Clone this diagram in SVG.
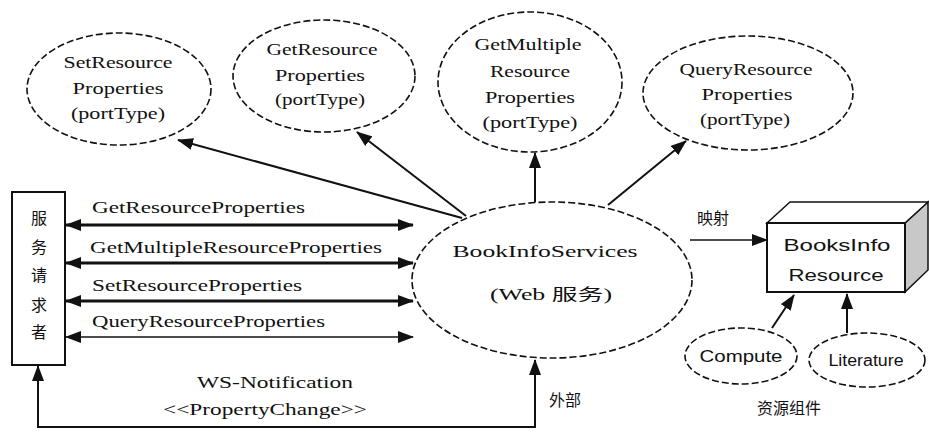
<svg xmlns="http://www.w3.org/2000/svg" width="929" height="437" viewBox="0 0 929 437">
<style>
.bg{fill:#fff}
.el{fill:#fff;stroke:#111;stroke-width:1.6;stroke-dasharray:7 3}
.box{fill:#fff;stroke:#111;stroke-width:2}
.t{font-family:"Liberation Serif","Times New Roman",serif;font-size:16px;fill:#111;text-anchor:middle}
.ts{font-family:"Liberation Sans",Arial,sans-serif;font-size:16px;fill:#111;text-anchor:middle}
.tl{font-family:"Liberation Serif","Times New Roman",serif;font-size:16px;fill:#111}
.cn{font-family:"Liberation Serif","Noto Sans CJK SC",serif;font-size:16px;fill:#111;text-anchor:middle}
.ln{stroke:#111;fill:none;stroke-width:2}
.thick{stroke-width:3}
.thin{stroke-width:1.5}
</style>
<defs>
<marker id="ah" markerUnits="userSpaceOnUse" markerWidth="16" markerHeight="12" refX="15" refY="6" orient="auto-start-reverse">
<path d="M0,0 L16,6 L0,12 Z" fill="#111"/>
</marker>
</defs>
<rect class="bg" x="0" y="0" width="929" height="437"/>

<g id="connectors">
<line class="ln" x1="462" y1="218" x2="178" y2="140" marker-end="url(#ah)"/>
<line class="ln" x1="466" y1="216" x2="357" y2="132" marker-end="url(#ah)"/>
<line class="ln" x1="535" y1="202" x2="535" y2="153" marker-end="url(#ah)"/>
<line class="ln" x1="608" y1="205" x2="686" y2="141" marker-end="url(#ah)"/>
<line class="ln thick" x1="66" y1="225" x2="413" y2="225" marker-start="url(#ah)" marker-end="url(#ah)"/>
<line class="ln thick" x1="66" y1="263" x2="413" y2="263" marker-start="url(#ah)" marker-end="url(#ah)"/>
<line class="ln thick" x1="66" y1="301" x2="413" y2="301" marker-start="url(#ah)" marker-end="url(#ah)"/>
<line class="ln thin" x1="66" y1="337" x2="413" y2="337" marker-start="url(#ah)" marker-end="url(#ah)"/>
<line class="ln thin" x1="690" y1="240" x2="767" y2="240" marker-end="url(#ah)"/>
<line class="ln" x1="772" y1="328" x2="794" y2="295" marker-end="url(#ah)"/>
<line class="ln" x1="847" y1="333" x2="847" y2="294" marker-end="url(#ah)"/>
<path class="ln" d="M535,360 L535,427 L38,427 L38,366" marker-start="url(#ah)" marker-end="url(#ah)"/>
<text class="tl" x="92" y="213" textLength="213" lengthAdjust="spacingAndGlyphs">GetResourceProperties</text>
<text class="tl" x="90" y="253" textLength="292" lengthAdjust="spacingAndGlyphs">GetMultipleResourceProperties</text>
<text class="tl" x="92" y="291" textLength="210" lengthAdjust="spacingAndGlyphs">SetResourceProperties</text>
<text class="tl" x="92" y="327" textLength="233" lengthAdjust="spacingAndGlyphs">QueryResourceProperties</text>
<text class="t" x="275" y="388" textLength="156" lengthAdjust="spacingAndGlyphs">WS-Notification</text>
<text class="t" x="265" y="415" textLength="204" lengthAdjust="spacingAndGlyphs">&lt;&lt;PropertyChange&gt;&gt;</text>
<text class="cn" x="565" y="406">外部</text>
<text class="cn" x="713" y="224">映射</text>
<text class="cn" x="789" y="414">资源组件</text>
</g>

<g id="requester">
<rect class="box" x="12" y="192" width="53" height="173"/>
<text class="cn" x="39" y="224">服</text>
<text class="cn" x="39" y="253">务</text>
<text class="cn" x="39" y="281">请</text>
<text class="cn" x="39" y="311">求</text>
<text class="cn" x="39" y="338">者</text>
</g>

<g id="setRP">
<ellipse class="el" cx="119" cy="89" rx="92" ry="56"/>
<text class="t" x="118" y="68" textLength="109" lengthAdjust="spacingAndGlyphs">SetResource</text>
<text class="t" x="118" y="94" textLength="91" lengthAdjust="spacingAndGlyphs">Properties</text>
<text class="t" x="118" y="119" textLength="94" lengthAdjust="spacingAndGlyphs">(portType)</text>
</g>

<g id="getRP">
<ellipse class="el" cx="324" cy="76" rx="91" ry="56"/>
<text class="t" x="322" y="55" textLength="111" lengthAdjust="spacingAndGlyphs">GetResource</text>
<text class="t" x="320" y="81" textLength="90" lengthAdjust="spacingAndGlyphs">Properties</text>
<text class="t" x="320" y="105" textLength="90" lengthAdjust="spacingAndGlyphs">(portType)</text>
</g>

<g id="getMRP">
<ellipse class="el" cx="530" cy="82" rx="92" ry="70"/>
<text class="t" x="528" y="50" textLength="107" lengthAdjust="spacingAndGlyphs">GetMultiple</text>
<text class="t" x="530" y="77" textLength="80" lengthAdjust="spacingAndGlyphs">Resource</text>
<text class="t" x="530" y="103" textLength="90" lengthAdjust="spacingAndGlyphs">Properties</text>
<text class="t" x="530" y="128" textLength="95" lengthAdjust="spacingAndGlyphs">(portType)</text>
</g>

<g id="queryRP">
<ellipse class="el" cx="748" cy="93" rx="105" ry="57"/>
<text class="t" x="746" y="75" textLength="133" lengthAdjust="spacingAndGlyphs">QueryResource</text>
<text class="t" x="747" y="100" textLength="91" lengthAdjust="spacingAndGlyphs">Properties</text>
<text class="t" x="745" y="125" textLength="90" lengthAdjust="spacingAndGlyphs">(portType)</text>
</g>

<g id="service">
<ellipse class="el" cx="552" cy="280" rx="140" ry="78"/>
<text class="t" x="545" y="257" textLength="185" lengthAdjust="spacingAndGlyphs">BookInfoServices</text>
<text class="cn" x="551" y="300" textLength="122" lengthAdjust="spacingAndGlyphs">(Web 服务)</text>
</g>

<g id="resource">
<path d="M905,223 L928,202 L928,270 L905,292 Z" fill="#c8c8c8" stroke="#111" stroke-width="1.5"/>
<path d="M767,223 L790,202 L928,202 L905,223 Z" fill="#fff" stroke="#111" stroke-width="1.5"/>
<rect class="box" x="767" y="223" width="138" height="69"/>
<text class="ts" x="837" y="251" textLength="107" lengthAdjust="spacingAndGlyphs">BooksInfo</text>
<text class="ts" x="836" y="281" textLength="95" lengthAdjust="spacingAndGlyphs">Resource</text>
</g>

<g id="compute">
<ellipse class="el" cx="741" cy="356" rx="56" ry="28"/>
<text class="ts" x="741" y="362" textLength="83" lengthAdjust="spacingAndGlyphs">Compute</text>
</g>

<g id="literature">
<ellipse class="el" cx="867" cy="360" rx="58" ry="27"/>
<text class="ts" x="866" y="366" textLength="75" lengthAdjust="spacingAndGlyphs">Literature</text>
</g>
</svg>
